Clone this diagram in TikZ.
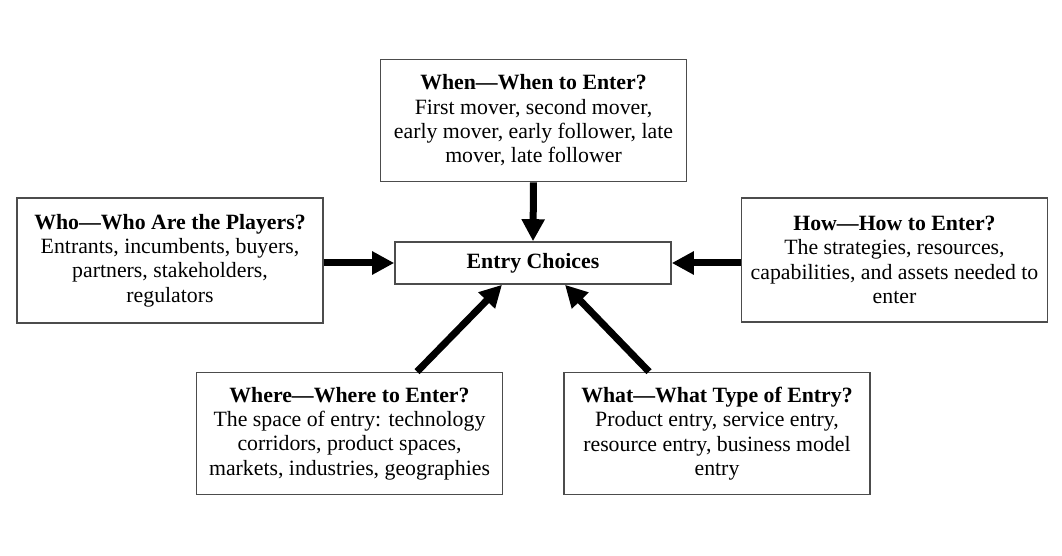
\documentclass[tikz,border=0pt]{standalone}
\usepackage{fontspec}
\setmainfont{Liberation Serif}
\usepackage{tikz}
\usetikzlibrary{arrows.meta,calc}

\begin{document}
\begin{tikzpicture}[x=0.5pt,y=-0.5pt,-{Triangle[length=11pt,width=11pt]},line width=3.5pt,draw=black]
    \tikzstyle{every node}=[font=\fontsize{10.9}{12.2}\selectfont]
    \tikzstyle{choice}=[draw=black!70,line width=0.8pt,fill=white,minimum width=153pt,minimum height=61pt,align=center,inner sep=1pt]
    \tikzstyle{center box}=[choice,minimum width=138pt,minimum height=21pt]

    \useasboundingbox (0,0) rectangle (1062,556);

    % the five questions round the centre
    \node[center box] (entry) at (533,263) {\textbf{Entry Choices}};
    \node[choice] (when) at (533.5,120.5) {\textbf{When—When to Enter?}\\First mover, second mover,\\early mover, early follower, late\\mover, late follower};
    \node[choice,minimum height=62.5pt] (who) at (170,260.5) {\textbf{Who—Who Are the Players?}\\Entrants, incumbents, buyers,\\partners, stakeholders,\\regulators};
    \node[choice,minimum height=62pt] (how) at (894.5,260) {\textbf{How—How to Enter?}\\The strategies, resources,\\capabilities, and assets needed to\\enter};
    \node[choice] (where) at (349.5,433.5) {\textbf{Where—Where to Enter?}\\The space of entry: technology\\corridors, product spaces,\\markets, industries, geographies};
    \node[choice] (what) at (717,433.5) {\textbf{What—What Type of Entry?}\\Product entry, service entry,\\resource entry, business model\\entry};

    % arrows into the centre
    \path (when.south) edge (entry.north);
    \path (who.east |- entry.west) edge (entry.west);
    \path (how.west |- entry.east) edge (entry.east);
    \path ($(where.north)+(33.75pt,0)$) edge ($(entry.south)+(-15.5pt,0)$);
    \path ($(what.north)+(-34pt,0)$) edge ($(entry.south)+(16pt,0)$);
\end{tikzpicture}
\end{document}
